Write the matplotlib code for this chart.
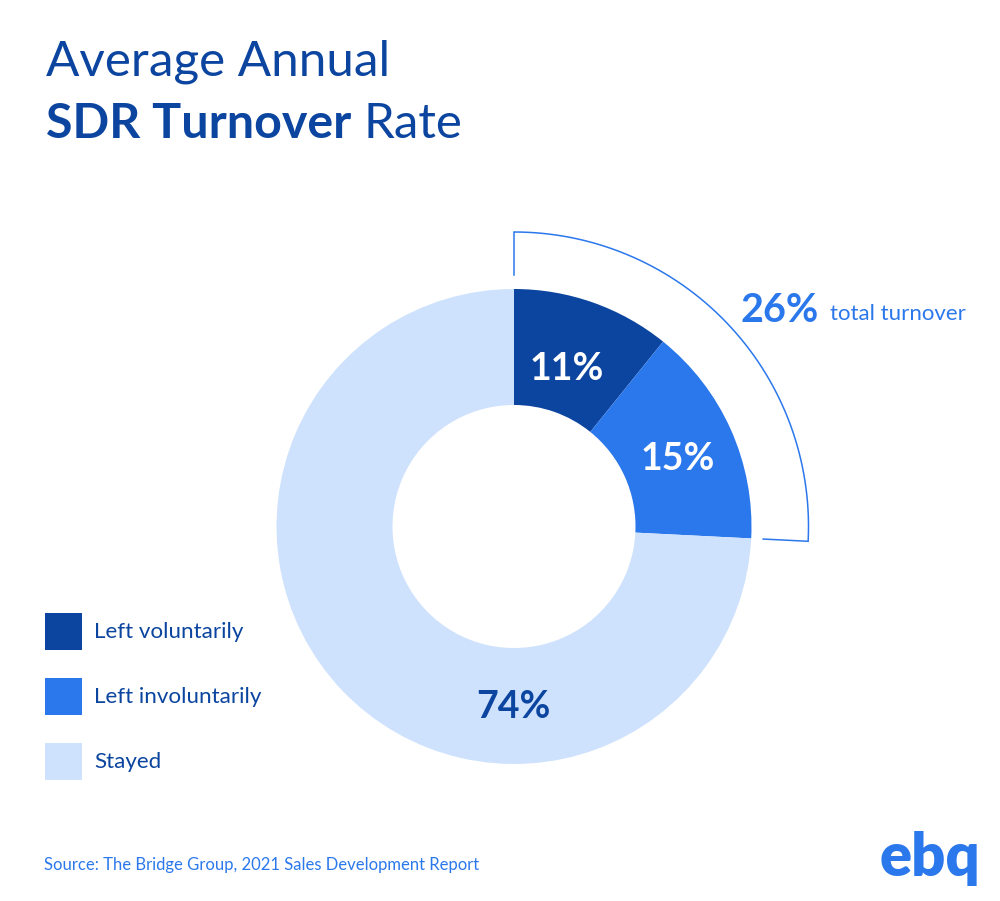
import numpy as np
import matplotlib
matplotlib.use("Agg")
import matplotlib.pyplot as plt
from matplotlib.patches import Rectangle

categories = ["Left voluntarily", "Left involuntarily", "Stayed"]
shares = [10.8, 15.0, 74.2]
share_labels = ["11%", "15%", "74%"]
colors = ["#0B459F", "#2B78EC", "#CFE2FD"]
total_label = "26%"
total_text = "total turnover"
NAVY = "#0B459F"
BLUE = "#2B78EC"
FONT = "Lato"

W, H = 1000, 901
fig = plt.figure(figsize=(W / 100, H / 100), dpi=100, facecolor="white")

pax = fig.add_axes([0, 0, 1, 1], facecolor="none", zorder=1)
cx, cy, R = 514, H - 526.5, 237.5
rin = 121.5
pax.pie(shares, colors=colors, startangle=90, counterclock=False, center=(cx, cy),
        radius=R, frame=True, wedgeprops=dict(width=R - rin, linewidth=0))
pax.set_xlim(0, W)
pax.set_ylim(0, H)
pax.set_aspect("auto")
pax.axis("off")

ax = fig.add_axes([0, 0, 1, 1], facecolor="none", zorder=2)
ax.set_xlim(0, W)
ax.set_ylim(H, 0)
ax.axis("off")

# bracket around the turnover share
rb = 294.5
sweep = (shares[0] + shares[1]) / 100 * 2 * np.pi
t = np.linspace(0, sweep, 200)
bx = [cx] + list(cx + rb * np.sin(t)) + [cx + (R + 12) * np.sin(sweep)]
by = [cy + R + 14] + list(cy + rb * np.cos(t)) + [cy + (R + 12) * np.cos(sweep)]
pax.plot(bx, by, color=BLUE, lw=1.1, solid_joinstyle="miter")

# title
ax.text(46, 62, "Average Annual", fontsize=35.6, color=NAVY, family=FONT, va="center", ha="left")
ax.text(46, 124, "SDR Turnover", fontsize=34.8, color=NAVY, family=FONT, weight="bold", va="center", ha="left")
ax.text(363, 124, "Rate", fontsize=35.5, color=NAVY, family=FONT, va="center", ha="left")

# share labels
pos = [(567, 369), (678, 459), (513, 707)]
tc = ["white", "white", NAVY]
for s, (x, y), c in zip(share_labels, pos, tc):
    ax.text(x, y, s, fontsize=27, weight="bold", color=c, family=FONT, ha="center", va="center")

ax.text(741, 310, total_label, fontsize=28.5, weight="bold", color=BLUE, family=FONT, va="center", ha="left")
ax.text(830, 314, total_text, fontsize=16, color=BLUE, family=FONT, va="center", ha="left")

# legend
for name, c, y in zip(categories, colors, [613, 678, 743]):
    ax.add_patch(Rectangle((45, y), 37, 37, facecolor=c, edgecolor="none"))
    ax.text(94.5, y + 19, name, fontsize=16.1, color=NAVY, family=FONT, va="center", ha="left")

ax.text(44, 865, "Source: The Bridge Group, 2021 Sales Development Report", fontsize=12.0,
        color=BLUE, family=FONT, va="center", ha="left")
ax.text(930, 858, "ebq", fontsize=43, weight="heavy", color=BLUE, family=FONT, va="center", ha="center")

fig.savefig("out.png", dpi=100, facecolor="white")
